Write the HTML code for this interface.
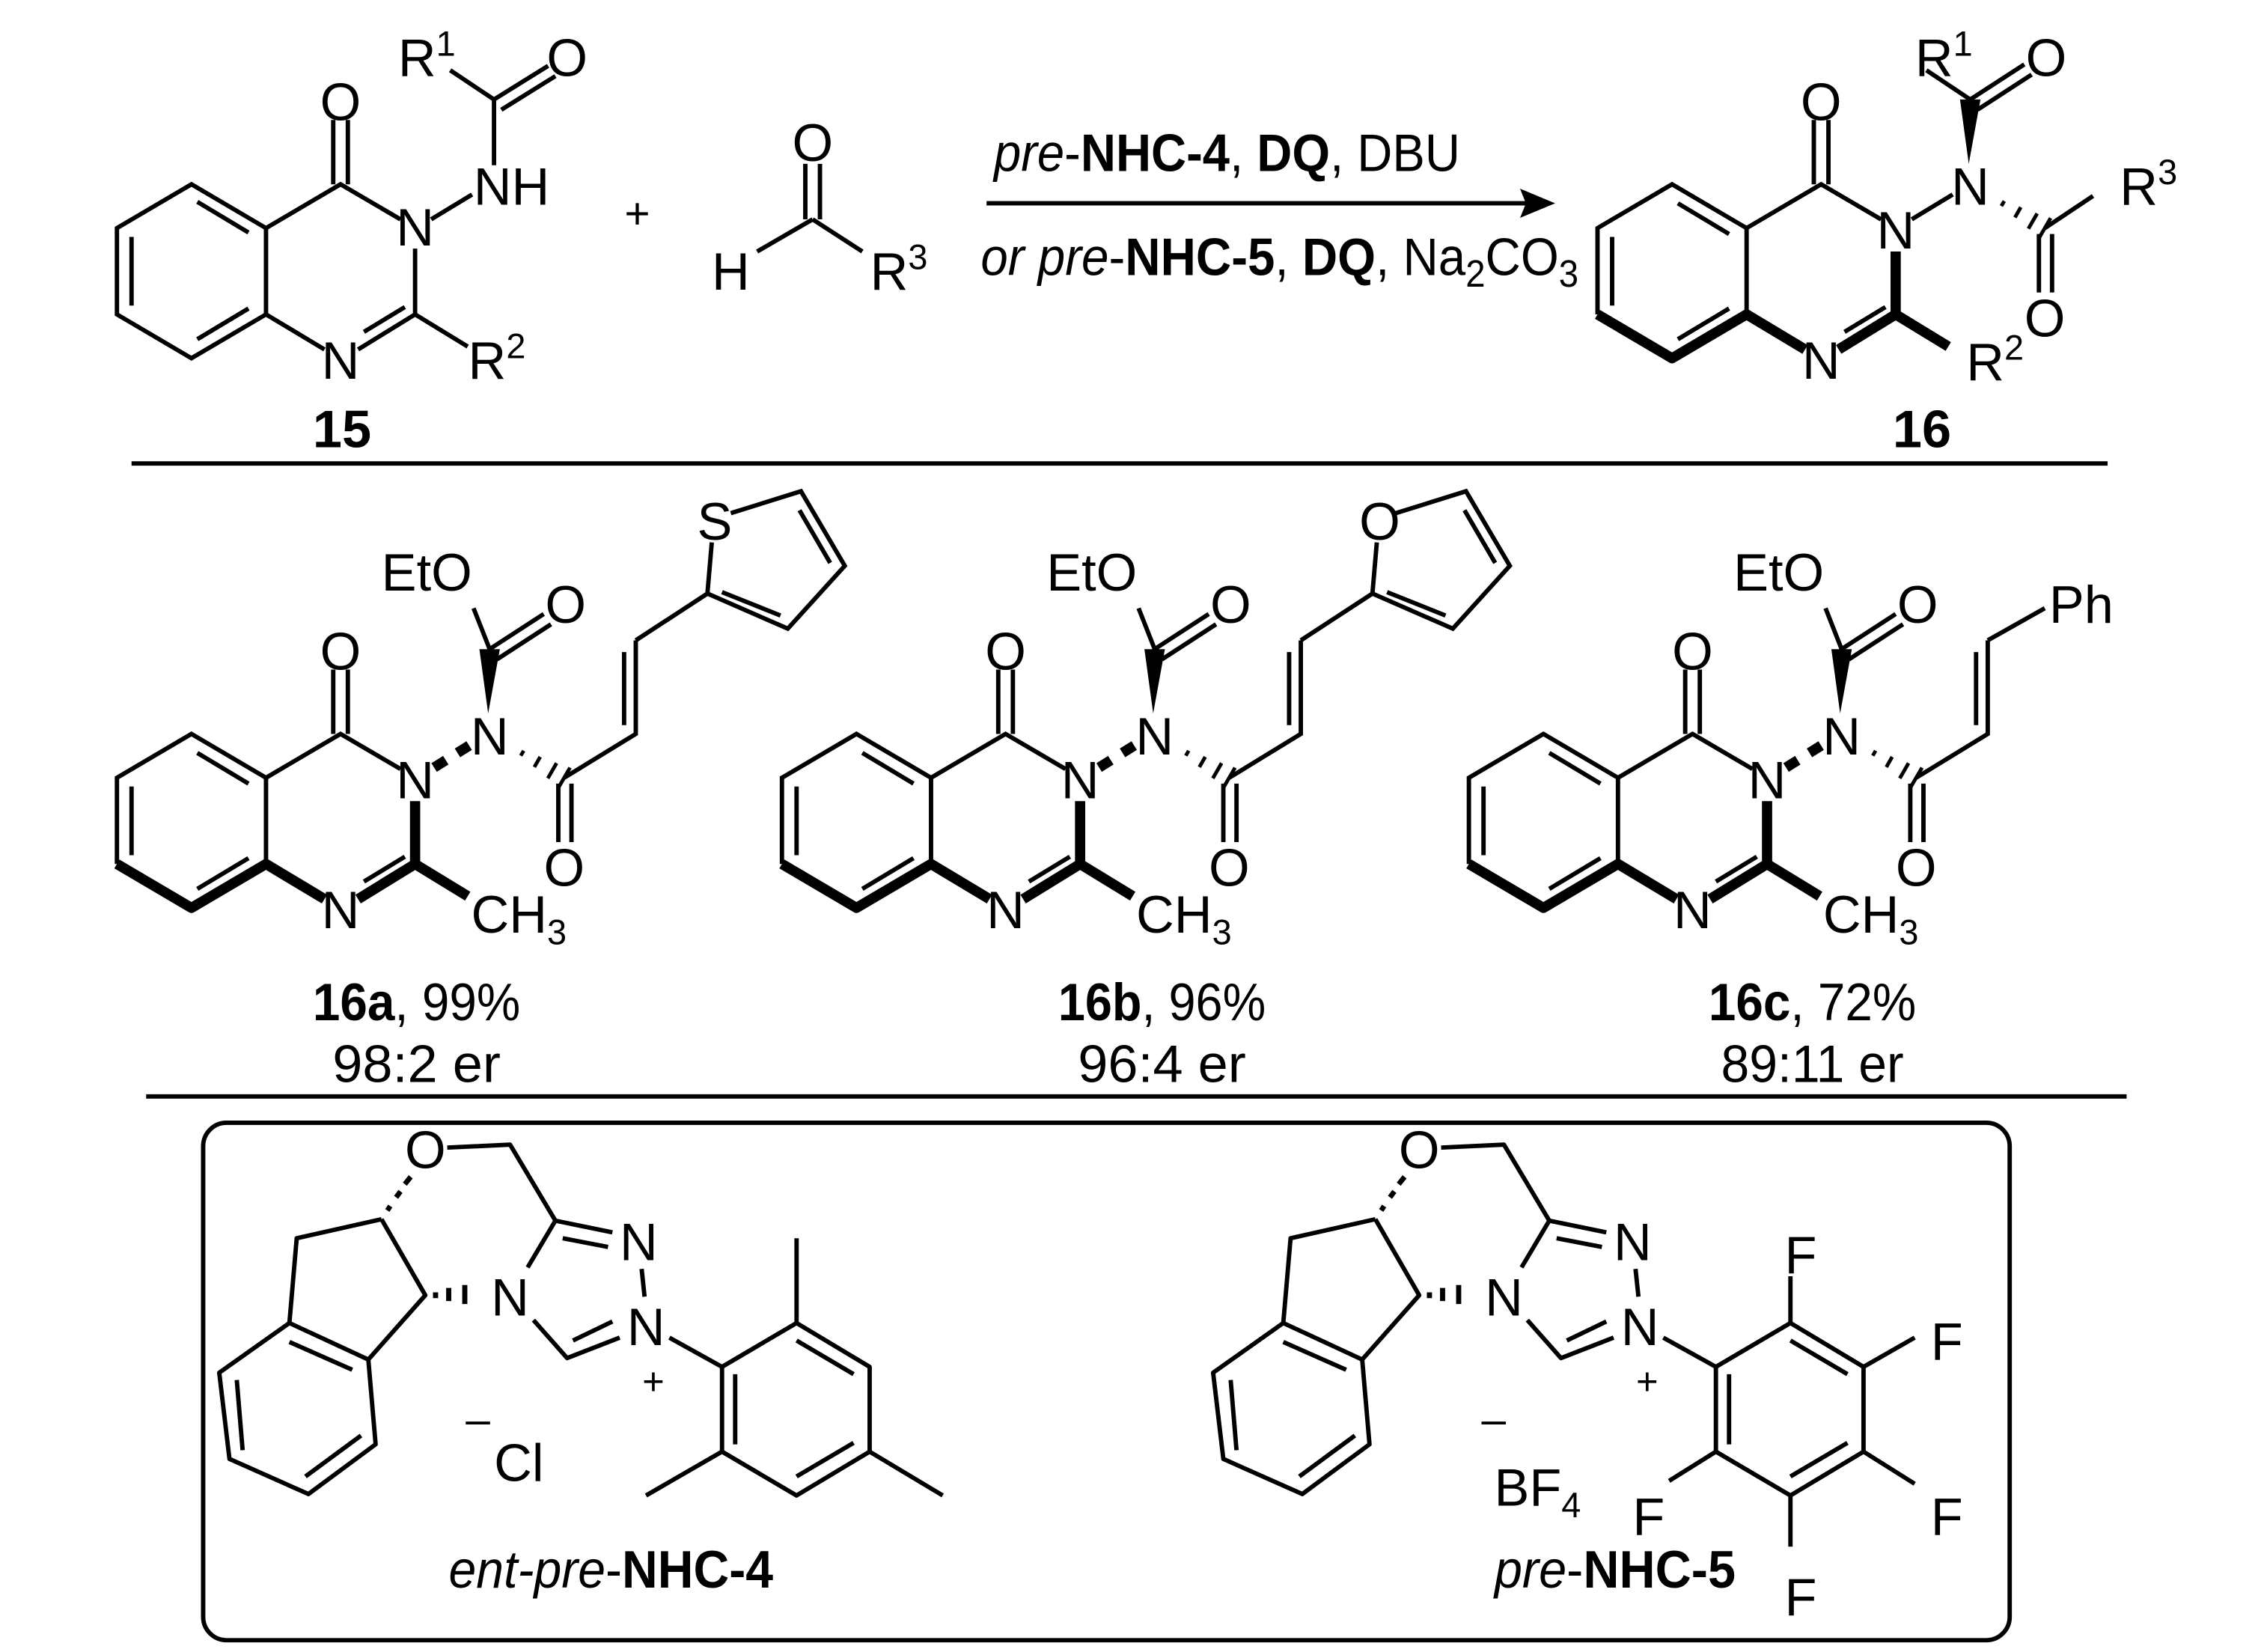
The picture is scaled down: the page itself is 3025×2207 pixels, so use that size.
<!DOCTYPE html>
<html><head><meta charset="utf-8"><style>
html,body{margin:0;padding:0;background:#fff;}
svg{display:block;}
text{font-family:"Liberation Sans Narrow","Liberation Sans",sans-serif;fill:#000;}
</style></head><body>
<svg width="3025" height="2207" viewBox="0 0 1549 1130" xmlns="http://www.w3.org/2000/svg">
<g font-size="36" text-anchor="middle">

<!-- ============ Compound 15 ============ -->
<g stroke="#000" stroke-width="3" fill="none">
<path d="M80 156 L131 126 L182 156 L182 215 L131 245 L80 215 Z"/>
<path d="M90 162 L90 209 M135 138 L170 159 M170 211 L135 232"/>
<path d="M182 156 L233 126 L274 150 M284 170 L284 215 M182 215 L222 239 M245 239 L284 215 M249 227 L277 210 M284 215 L320 237"/>
<path d="M228 126 L228 82 M238 126 L238 82"/>
<path d="M295 150 L323 133 M338 113 L338 68 M338 68 L308 48 M338 68 L375 45 M343 75 L380 52"/>
</g>
<text x="233" y="82">O</text>
<text x="284" y="168">N</text>
<text x="350" y="140">NH</text>
<text x="233" y="259">N</text>
<text x="292" y="52">R<tspan font-size="24" dy="-14">1</tspan></text>
<text x="388" y="52">O</text>
<text x="340" y="259">R<tspan font-size="24" dy="-14">2</tspan></text>
<text x="234" y="306" font-weight="bold">15</text>

<text x="436" y="156" font-size="30">+</text>

<!-- aldehyde -->
<g stroke="#000" stroke-width="3" fill="none">
<path d="M551 150 L551 112 M561 150 L561 112 M556 150 L518 172 M556 150 L590 172"/>
</g>
<text x="556" y="110">O</text>
<text x="500" y="198">H</text>
<text x="615" y="198">R<tspan font-size="24" dy="-14">3</tspan></text>

<!-- arrow -->
<line x1="675" y1="139" x2="1050" y2="139" stroke="#000" stroke-width="3"/>
<polygon points="1064,139 1040,129 1044,139 1040,149" fill="#000"/>
<text x="680" y="117" text-anchor="start" textLength="319" lengthAdjust="spacingAndGlyphs"><tspan font-style="italic">pre</tspan>-<tspan font-weight="bold">NHC-4</tspan>, <tspan font-weight="bold">DQ</tspan>, DBU</text>
<text x="671" y="188" text-anchor="start" textLength="409" lengthAdjust="spacingAndGlyphs"><tspan font-style="italic">or pre</tspan>-<tspan font-weight="bold">NHC-5</tspan>, <tspan font-weight="bold">DQ</tspan>, Na<tspan font-size="26" dy="8">2</tspan><tspan dy="-8">CO</tspan><tspan font-size="26" dy="8">3</tspan></text>

<!-- ============ Compound 16 ============ -->
<g id="core16">
<g stroke="#000" stroke-width="3" fill="none">
<path d="M1093 215 L1093 156 L1144 126 L1195 156 L1195 215"/>
<path d="M1103 162 L1103 209 M1148 139 L1183 160 M1183 211 L1148 232"/>
<path d="M1195 156 L1246 126 L1287 150"/>
<path d="M1241 126 L1241 82 M1251 126 L1251 82"/>
<path d="M1262 227 L1290 210"/>
</g>
<g stroke="#000" stroke-width="7" fill="none" stroke-linejoin="round">
<path d="M1093 215 L1144 245 L1195 215 L1235 239"/>
<path d="M1258 239 L1297 215 L1333 237 M1297 215 L1297 172"/>
</g>
<polygon points="1347,112 1341,68 1355,68" fill="#000"/>
<g stroke="#000" stroke-width="2.5">
<line x1="1369.3" y1="140.9" x2="1371.3" y2="137.5"/>
<line x1="1378.6" y1="148.7" x2="1382.6" y2="141.7"/>
<line x1="1387.8" y1="156.4" x2="1393.8" y2="146"/>
<line x1="1395" y1="162.9" x2="1403" y2="149.1"/>
</g>
<g stroke="#000" stroke-width="3" fill="none">
<path d="M1395 160 L1395 200 M1404 160 L1404 200"/>
</g>
<text x="1246" y="82">O</text>
<text x="1297" y="170">N</text>
<text x="1348" y="140">N</text>
<text x="1246" y="259">N</text>
<text x="1399" y="230">O</text>
</g>
<g stroke="#000" stroke-width="3" fill="none">
<path d="M1308 150 L1336 133"/>
<path d="M1348 68 L1318 48 M1348 68 L1385 44 M1353 75 L1390 51"/>
<path d="M1399 156 L1432 134"/>
</g>
<text x="1330" y="52">R<tspan font-size="24" dy="-14">1</tspan></text>
<text x="1400" y="52">O</text>
<text x="1470" y="140">R<tspan font-size="24" dy="-14">3</tspan></text>
<text x="1365" y="260">R<tspan font-size="24" dy="-14">2</tspan></text>
<text x="1315" y="306" font-weight="bold">16</text>

<line x1="90" y1="317" x2="1442" y2="317" stroke="#000" stroke-width="3"/>

<!-- ============ Row 2 ============ -->
<!-- 16a -->
<g transform="translate(-1013,376)">
<use href="#core16"/>
<g stroke="#000" stroke-width="7"><path d="M1310 149 L1318 144 M1326 139 L1334 134"/></g>
<g stroke="#000" stroke-width="3" fill="none">
<path d="M1348 68 L1337 40 M1348 68 L1385 44 M1353 75 L1390 51"/>
<path d="M1399 156 L1448 126 L1448 62 M1440 120 L1440 70 M1448 62 L1497 30"/>
<path d="M1497 30 L1500 -5 M1513 -25 L1561 -40 L1591 11 L1552 54 L1497 30 M1560 -27 L1581 9 M1507 29 L1547 45"/>
</g>
<text x="1305" y="28">EtO</text>
<text x="1400" y="50">O</text>
<text x="1368" y="262">CH<tspan font-size="24" dy="8">3</tspan></text>
<text x="1502" y="-7">S</text>
</g>
<text x="285" y="698" textLength="142" lengthAdjust="spacingAndGlyphs"><tspan font-weight="bold">16a</tspan>, 99%</text>
<text x="285" y="740" textLength="115" lengthAdjust="spacingAndGlyphs">98:2 er</text>

<!-- 16b -->
<g transform="translate(-558,376)">
<use href="#core16"/>
<g stroke="#000" stroke-width="7"><path d="M1310 149 L1318 144 M1326 139 L1334 134"/></g>
<g stroke="#000" stroke-width="3" fill="none">
<path d="M1348 68 L1337 40 M1348 68 L1385 44 M1353 75 L1390 51"/>
<path d="M1399 156 L1448 126 L1448 62 M1440 120 L1440 70 M1448 62 L1497 30"/>
<path d="M1497 30 L1500 -5 M1513 -25 L1561 -40 L1591 11 L1552 54 L1497 30 M1560 -27 L1581 9 M1507 29 L1547 45"/>
</g>
<text x="1305" y="28">EtO</text>
<text x="1400" y="50">O</text>
<text x="1368" y="262">CH<tspan font-size="24" dy="8">3</tspan></text>
<text x="1502" y="-7">O</text>
</g>
<text x="795" y="698" textLength="142" lengthAdjust="spacingAndGlyphs"><tspan font-weight="bold">16b</tspan>, 96%</text>
<text x="795" y="740" textLength="115" lengthAdjust="spacingAndGlyphs">96:4 er</text>

<!-- 16c -->
<g transform="translate(-88,376)">
<use href="#core16"/>
<g stroke="#000" stroke-width="7"><path d="M1310 149 L1318 144 M1326 139 L1334 134"/></g>
<g stroke="#000" stroke-width="3" fill="none">
<path d="M1348 68 L1337 40 M1348 68 L1385 44 M1353 75 L1390 51"/>
<path d="M1399 156 L1448 126 L1448 62 M1440 120 L1440 70 M1448 62 L1487 40"/>
</g>
<text x="1305" y="28">EtO</text>
<text x="1400" y="50">O</text>
<text x="1368" y="262">CH<tspan font-size="24" dy="8">3</tspan></text>
<text x="1512" y="50">Ph</text>
</g>
<text x="1240" y="698" textLength="142" lengthAdjust="spacingAndGlyphs"><tspan font-weight="bold">16c</tspan>, 72%</text>
<text x="1240" y="740" textLength="125" lengthAdjust="spacingAndGlyphs">89:11 er</text>

<line x1="100" y1="750" x2="1455" y2="750" stroke="#000" stroke-width="3"/>

<rect x="139" y="768" width="1236" height="354" rx="16" ry="16" fill="none" stroke="#000" stroke-width="3"/>

<!-- ============ NHC-4 ============ -->
<g id="nhc">
<g stroke="#000" stroke-width="3" fill="none" stroke-linejoin="round">
<path d="M306 785 L349 783 L380 835 L419 843 M385 847 L416 853 M380 835 L361 867"/>
<path d="M439 868 L441 887 M424 915 L388 929 L365 903 M419 904 L392 917"/>
<path d="M261 834 L203 847 L198 905 L252 930 L291 886 L261 834"/>
<path d="M198 918 L241 937"/>
<path d="M198 905 L150 939 L157 998 L211 1022 L257 988 L252 930"/>
<path d="M162 944 L166 992 M209 1010 L247 982"/>
<path d="M458 915 L494 935"/>
</g>
<g stroke="#000" stroke-width="3.5">
<path d="M265 828 L267 825 M271 819 L274 815 M277 810 L281 805"/>
<path d="M298 884 L298 888 M307 881 L307 890 M318 879 L318 892"/>
</g>
<text x="291" y="799">O</text>
<text x="437" y="862">N</text>
<text x="349" y="900">N</text>
<text x="442" y="920">N</text>
<text x="447" y="954" font-size="26">+</text>
</g>
<g stroke="#000" stroke-width="3" fill="none" stroke-linejoin="round">
<path d="M494 935 L545 905 L595 935 L595 993 L545 1023 L494 993 Z"/>
<path d="M545 917 L584 940 M503 940 L503 988 M545 1010 L584 987"/>
<path d="M545 905 L545 847 M595 993 L645 1023 M494 993 L442 1023"/>
</g>
<text x="327" y="981" font-size="30">–</text>
<text x="355" y="1013">Cl</text>
<text x="418" y="1086" textLength="222" lengthAdjust="spacingAndGlyphs"><tspan font-style="italic">ent-pre</tspan>-<tspan font-weight="bold">NHC-4</tspan></text>

<!-- ============ NHC-5 ============ -->
<g transform="translate(680,0)">
<use href="#nhc"/>
<g stroke="#000" stroke-width="3" fill="none" stroke-linejoin="round">
<path d="M494 935 L545 905 L595 935 L595 993 L545 1023 L494 993 Z"/>
<path d="M545 917 L584 940 M503 940 L503 988 M545 1010 L584 987"/>
<path d="M545 905 L545 873 M595 935 L630 915 M595 993 L630 1015 M545 1023 L545 1058 M494 993 L462 1013"/>
</g>
<text x="552" y="871">F</text>
<text x="652" y="930">F</text>
<text x="652" y="1050">F</text>
<text x="552" y="1105">F</text>
<text x="448" y="1050">F</text>
</g>
<text x="1022" y="981" font-size="30">–</text>
<text x="1052" y="1030">BF<tspan font-size="24" dy="8">4</tspan></text>
<text x="1105" y="1086" textLength="165" lengthAdjust="spacingAndGlyphs"><tspan font-style="italic">pre</tspan>-<tspan font-weight="bold">NHC-5</tspan></text>

</g>
</svg>
</body></html>
